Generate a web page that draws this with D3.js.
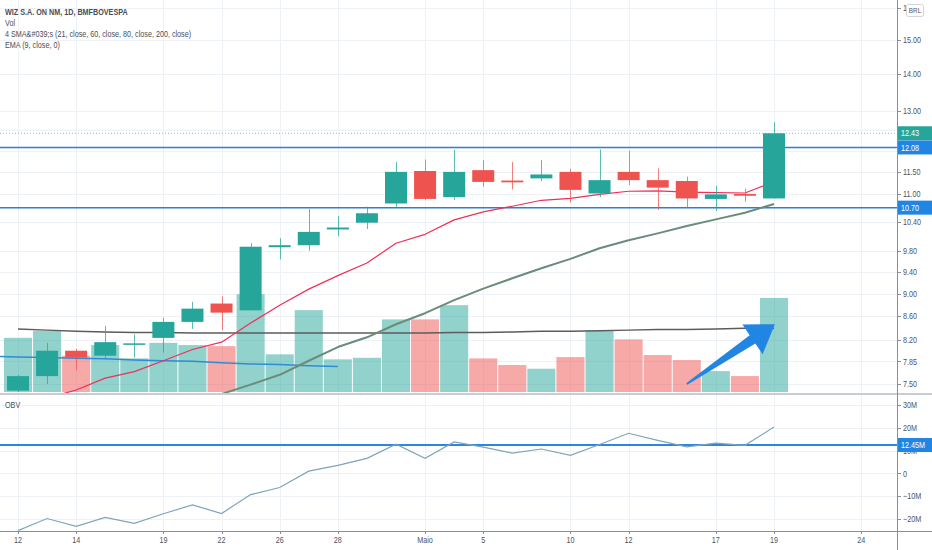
<!DOCTYPE html>
<html lang="en">
<head>
<meta charset="UTF-8">
<title>WIZ S.A. ON NM, 1D, BMFBOVESPA</title>
<script src="https://cdn.jsdelivr.net/npm/d3@7"></script>
<style>
    body {
        margin: 0;
        background: #fff;
    }

    svg {
        display: block;
        font-family: "Liberation Sans", Arial, sans-serif;
    }

    .grid line {
        stroke: #eef1f6;
        stroke-width: 1;
    }

    .axis-text {
        font-size: 9px;
        fill: #50535e;
    }

    .legend {
        font-size: 9px;
        fill: #4a4d57;
    }

    .label-text {
        font-size: 9px;
        fill: #fff;
    }
</style>
</head>
<body>
<svg width="932" height="550"></svg>
<script>

    // daily bars, 12 Apr - 19 May
    var dates = ['12', '13', '14', '15', '16', '19', '20', '22', '23', '26', '27', '28', '29', '30',
        'Maio', '4', '5', '6', '7', '10', '11', '12', '13', '14', '17', '18', '19'];
    var open  = [7.40, 7.62, 8.02, 7.94, 8.12, 8.23, 8.50, 8.82, 8.70, 9.88, 9.92, 10.24, 10.38, 10.79,
        11.52, 10.93, 11.54, 11.30, 11.35, 11.50, 11.01, 11.50, 11.31, 11.29, 10.89, 11.00, 10.90];
    var high  = [7.64, 8.15, 8.05, 8.43, 8.29, 8.57, 8.85, 8.95, 9.96, 10.06, 10.67, 10.52, 10.72, 11.73,
        11.79, 12.02, 11.78, 11.73, 11.78, 11.57, 12.03, 12.00, 11.58, 11.39, 11.18, 11.12, 12.71];
    var low   = [7.38, 7.50, 7.71, 7.88, 7.91, 7.99, 8.38, 8.36, 8.70, 9.64, 9.81, 10.10, 10.25, 10.72,
        10.87, 10.87, 11.16, 11.10, 11.29, 10.81, 10.93, 11.20, 10.65, 10.71, 10.63, 10.83, 10.90];
    var close = [7.62, 8.02, 7.91, 8.16, 8.14, 8.50, 8.73, 8.66, 9.89, 9.92, 10.19, 10.28, 10.58, 11.50,
        10.89, 11.50, 11.27, 11.26, 11.44, 11.09, 11.31, 11.31, 11.14, 10.90, 10.99, 10.96, 12.43];
    // volume in millions
    var volume = [4.56, 5.15, 3.05, 3.95, 2.83, 4.14, 3.95, 3.86, 8.23, 3.17, 6.89, 2.75, 2.88, 6.11,
        6.11, 7.31, 2.83, 2.27, 1.96, 2.94, 5.18, 4.43, 3.11, 2.69, 1.76, 1.34, 7.92];
    // OBV in millions
    var obv = [-25.1, -19.8, -23.2, -19.3, -21.9, -17.7, -13.8, -17.6, -9.3, -6.2, 1.0, 3.5, 6.6, 12.8,
        6.6, 13.8, 11.5, 8.9, 10.7, 7.9, 12.7, 17.6, 14.5, 11.6, 13.3, 12.3, 20.3];

    // moving averages (first bar index given separately)
    var emaStart = 1;
    var ema9 = [7.29, 7.41, 7.59, 7.69, 7.86, 8.04, 8.16, 8.48, 8.79, 9.08, 9.33, 9.57, 9.96, 10.14,
        10.44, 10.61, 10.73, 10.86, 10.90, 10.99, 11.06, 11.07, 11.04, 11.03, 11.02, 11.27];
    var sma21Start = 7;
    var sma21 = [7.35, 7.49, 7.64, 7.86, 8.08, 8.24, 8.46, 8.65, 8.88, 9.09, 9.28, 9.47, 9.65, 9.86,
        10.02, 10.16, 10.31, 10.45, 10.59, 10.78];
    var sma200Start = 0;
    var sma200 = [8.38, 8.36, 8.34, 8.33, 8.32, 8.32, 8.31, 8.31, 8.31, 8.31, 8.31, 8.31, 8.31, 8.31,
        8.31, 8.32, 8.32, 8.33, 8.34, 8.34, 8.35, 8.36, 8.37, 8.37, 8.38, 8.39, 8.39];
    var sma80Start = -1;
    var sma80 = [7.93, 7.92, 7.91, 7.90, 7.89, 7.87, 7.86, 7.85, 7.83, 7.81, 7.80, 7.78, 7.77];

    var levels = [12.08, 10.70];
    var obvLevel = 12.45;
    var arrowFrom = [23, 7.50];
    var arrowTo = [26.03, 8.46];

    var xTickIndex = [0, 2, 5, 7, 9, 11, 14, 16, 19, 21, 24, 26, 29];
    var xTickLabels = ['12', '14', '19', '22', '26', '28', 'Maio', '5', '10', '12', '17', '19', '24'];
    var priceTicks = [16, 15, 14, 13, 12.5, 12, 11.5, 11, 10.4, 9.8, 9.4, 9, 8.6, 8.2, 7.85, 7.5];
    var hiddenPriceTicks = [12.5, 12];
    var obvTicks = [30, 20, 10, 0, -10, -20];
    var legendLines = ['WIZ S.A. ON NM, 1D, BMFBOVESPA', 'Vol',
        '4 SMA&#039;s (21, close, 60, close, 80, close, 200, close)', 'EMA (9, close, 0)'];

    var up = '#26a69a';
    var down = '#ef5350';

    var width = 932;
    var axisX = 897;
    var pricePaneBottom = 393;
    var obvTop = 396;
    var obvBottom = 531;

    var svg = d3.select('svg');

    var x = d3.scaleLinear().domain([0, 26]).range([18, 774]);
    var y = d3.scaleLog().domain([7.5, 15]).range([384, 40]);
    var yVol = d3.scaleLinear().domain([0, 33]).range([392, 0]);
    var yObv = d3.scaleLinear().domain([-20, 30]).range([519, 405]);

    var step = x(1) - x(0);

    var defs = svg.append('defs');
    defs.append('clipPath').attr('id', 'clip-price')
        .append('rect').attr('x', 0).attr('y', 0).attr('width', axisX).attr('height', pricePaneBottom);
    defs.append('clipPath').attr('id', 'clip-obv')
        .append('rect').attr('x', 0).attr('y', obvTop).attr('width', axisX).attr('height', obvBottom - obvTop);
    defs.append('clipPath').attr('id', 'clip-badge')
        .append('rect').attr('x', axisX).attr('y', 0).attr('width', 9).attr('height', 20);

    // grid
    var grid = svg.append('g').attr('class', 'grid');
    xTickIndex.forEach(function (i) {
        grid.append('line')
            .attr('x1', Math.round(x(i)) + 0.5).attr('x2', Math.round(x(i)) + 0.5)
            .attr('y1', 0).attr('y2', obvBottom);
    });
    priceTicks.forEach(function (p) {
        grid.append('line')
            .attr('x1', 0).attr('x2', axisX)
            .attr('y1', Math.round(y(p)) + 0.5).attr('y2', Math.round(y(p)) + 0.5);
    });
    obvTicks.forEach(function (v) {
        grid.append('line')
            .attr('x1', 0).attr('x2', axisX)
            .attr('y1', Math.round(yObv(v)) + 0.5).attr('y2', Math.round(yObv(v)) + 0.5);
    });

    var pricePane = svg.append('g').attr('clip-path', 'url(#clip-price)');

    // volume
    pricePane.append('g').selectAll('rect')
        .data(volume)
        .enter()
        .append('rect')
        .attr('x', function (d, i) { return x(i) - step / 2 + 0.5; })
        .attr('width', step - 1)
        .attr('y', function (d) { return yVol(d); })
        .attr('height', function (d) { return yVol(0) - yVol(d); })
        .attr('fill', function (d, i) { return close[i] >= open[i] ? up : down; })
        .attr('fill-opacity', 0.5);

    // horizontal levels
    pricePane.append('line')
        .attr('x1', 0).attr('x2', axisX)
        .attr('y1', y(close[26])).attr('y2', y(close[26]))
        .attr('stroke', up).attr('stroke-opacity', 0.6)
        .attr('stroke-dasharray', '1,2');
    levels.forEach(function (p) {
        pricePane.append('line')
            .attr('x1', 0).attr('x2', axisX)
            .attr('y1', y(p)).attr('y2', y(p))
            .attr('stroke', '#2a7fd6').attr('stroke-width', 1.5);
    });

    function maLine(values, start, color, w) {
        var line = d3.line()
            .x(function (d, i) { return x(i + start); })
            .y(function (d) { return y(d); });
        pricePane.append('path')
            .datum(values)
            .attr('d', line)
            .attr('fill', 'none')
            .attr('stroke', color)
            .attr('stroke-width', w)
            .attr('stroke-linejoin', 'round');
    }

    maLine(sma80, sma80Start, '#2f8bd6', 1.5);
    maLine(sma200, sma200Start, '#5c5c5c', 1.5);
    maLine(sma21, sma21Start, '#6b8c7a', 2);
    maLine(ema9, emaStart, '#ef2f55', 1.2);

    // candles
    var candles = pricePane.append('g').selectAll('g')
        .data(close)
        .enter()
        .append('g');
    candles.append('line')
        .attr('x1', function (d, i) { return Math.round(x(i)) + 0.5; })
        .attr('x2', function (d, i) { return Math.round(x(i)) + 0.5; })
        .attr('y1', function (d, i) { return y(high[i]); })
        .attr('y2', function (d, i) { return y(low[i]); })
        .attr('stroke', function (d, i) { return d >= open[i] ? up : down; })
        .attr('stroke-opacity', 0.75);
    candles.append('rect')
        .attr('x', function (d, i) { return x(i) - 11; })
        .attr('width', 22)
        .attr('y', function (d, i) { return y(Math.max(d, open[i])); })
        .attr('height', function (d, i) { return Math.max(1.5, y(Math.min(d, open[i])) - y(Math.max(d, open[i]))); })
        .attr('fill', function (d, i) { return d >= open[i] ? up : down; });

    // arrow annotation
    var p0 = [x(arrowFrom[0]), y(arrowFrom[1])];
    var p1 = [x(arrowTo[0]), y(arrowTo[1])];
    var len = Math.hypot(p1[0] - p0[0], p1[1] - p0[1]);
    var u = [(p1[0] - p0[0]) / len, (p1[1] - p0[1]) / len];
    var n = [-u[1], u[0]];
    var headLen = 27;
    var base = [p1[0] - u[0] * headLen, p1[1] - u[1] * headLen];
    function pt(o, k) { return [o[0] + n[0] * k, o[1] + n[1] * k]; }
    var arrowPts = [pt(p0, 1), pt(base, 5), pt(base, 18), p1, pt(base, -18), pt(base, -5), pt(p0, -1)];
    pricePane.append('path')
        .attr('d', 'M' + arrowPts.map(function (p) { return p.join(','); }).join('L') + 'Z')
        .attr('fill', '#2186e3');

    // OBV pane
    var obvPane = svg.append('g').attr('clip-path', 'url(#clip-obv)');
    obvPane.append('line')
        .attr('x1', 0).attr('x2', axisX)
        .attr('y1', yObv(obvLevel)).attr('y2', yObv(obvLevel))
        .attr('stroke', '#2a86e0').attr('stroke-width', 2);
    obvPane.append('path')
        .datum(obv)
        .attr('d', d3.line()
            .x(function (d, i) { return x(i); })
            .y(function (d) { return yObv(d); }))
        .attr('fill', 'none')
        .attr('stroke', '#7ea5b9')
        .attr('stroke-width', 1.2);

    // separators and axes lines
    svg.append('rect').attr('x', 0).attr('y', pricePaneBottom).attr('width', width).attr('height', 2)
        .attr('fill', '#c9ccd3');
    svg.append('line').attr('x1', 0).attr('x2', width)
        .attr('y1', obvBottom + 0.5).attr('y2', obvBottom + 0.5)
        .attr('stroke', '#8b8e97');
    svg.append('line').attr('x1', axisX + 0.5).attr('x2', axisX + 0.5)
        .attr('y1', 0).attr('y2', 550)
        .attr('stroke', '#8b8e97');

    // x axis labels
    xTickIndex.forEach(function (i, k) {
        svg.append('line')
            .attr('x1', Math.round(x(i)) + 0.5).attr('x2', Math.round(x(i)) + 0.5)
            .attr('y1', obvBottom).attr('y2', obvBottom + 3)
            .attr('stroke', '#8b8e97');
        svg.append('text')
            .attr('class', 'axis-text')
            .attr('x', x(i))
            .attr('y', 540)
            .attr('dy', '0.35em')
            .attr('text-anchor', 'middle')
            .text(xTickLabels[k]);
    });

    // price axis labels
    priceTicks.forEach(function (p) {
        if (hiddenPriceTicks.indexOf(p) >= 0) return;
        svg.append('line')
            .attr('x1', axisX).attr('x2', axisX + 4)
            .attr('y1', Math.round(y(p)) + 0.5).attr('y2', Math.round(y(p)) + 0.5)
            .attr('stroke', '#8b8e97');
        var t = svg.append('text')
            .attr('class', 'axis-text')
            .attr('x', 903)
            .attr('y', y(p))
            .attr('dy', '0.35em')
            .text(p.toFixed(2));
        if (p === 16) t.attr('clip-path', 'url(#clip-badge)');
    });

    obvTicks.forEach(function (v) {
        svg.append('line')
            .attr('x1', axisX).attr('x2', axisX + 4)
            .attr('y1', Math.round(yObv(v)) + 0.5).attr('y2', Math.round(yObv(v)) + 0.5)
            .attr('stroke', '#8b8e97');
        svg.append('text')
            .attr('class', 'axis-text')
            .attr('x', 903)
            .attr('y', yObv(v))
            .attr('dy', '0.35em')
            .text(v === 0 ? '0' : (v < 0 ? '\u2212' : '') + Math.abs(v) + 'M');
    });

    function priceLabel(yy, text, color) {
        svg.append('rect')
            .attr('x', axisX + 1).attr('y', yy - 7)
            .attr('width', width - axisX - 1).attr('height', 14)
            .attr('fill', color);
        svg.append('text')
            .attr('class', 'label-text')
            .attr('x', 901)
            .attr('y', yy)
            .attr('dy', '0.35em')
            .text(text);
    }

    priceLabel(y(close[26]), close[26].toFixed(2), up);
    levels.forEach(function (p) {
        priceLabel(y(p), p.toFixed(2), '#2186e3');
    });
    priceLabel(yObv(obvLevel), obvLevel.toFixed(2) + 'M', '#2186e3');

    // currency badge
    svg.append('rect')
        .attr('x', 906.5).attr('y', 4.5).attr('width', 17).attr('height', 12).attr('rx', 2)
        .attr('fill', '#fff').attr('stroke', '#d1d4dc');
    svg.append('text')
        .attr('x', 915).attr('y', 10.5).attr('dy', '0.35em')
        .attr('text-anchor', 'middle')
        .attr('font-size', '8px').attr('fill', '#50535e')
        .text('BRL');

    // legend
    legendLines.forEach(function (t, i) {
        svg.append('text')
            .attr('class', 'legend')
            .attr('x', 5)
            .attr('y', 11.5 + i * 11)
            .attr('dy', '0.35em')
            .attr('font-size', i === 0 ? '9.5px' : null)
            .attr('font-weight', i === 0 ? 'bold' : 'normal')
            .attr('fill', i === 0 ? '#3a3d45' : '#4a4d57')
            .text(t);
    });
    svg.append('text')
        .attr('class', 'legend')
        .attr('x', 5)
        .attr('y', 405)
        .attr('dy', '0.35em')
        .text('OBV');

    // narrow face like the chart's: squeeze every text horizontally
    svg.selectAll('text').each(function () {
        var w = this.getComputedTextLength();
        d3.select(this)
            .attr('textLength', w * 0.8)
            .attr('lengthAdjust', 'spacingAndGlyphs');
    });

</script>
</body>
</html>
